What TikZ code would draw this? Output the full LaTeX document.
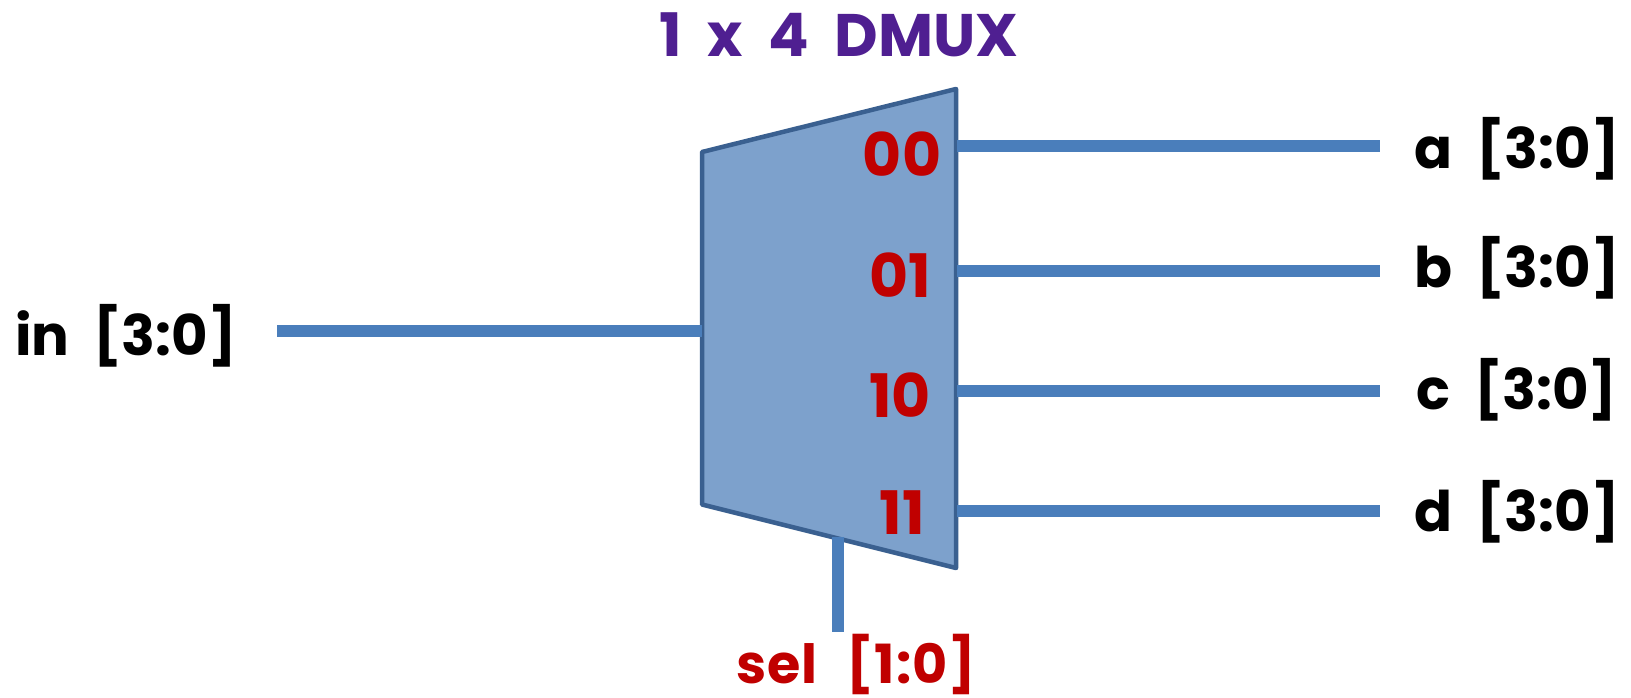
\documentclass[tikz,border=0pt]{standalone}
\usepackage{fontspec}
\setmainfont{Poppins}[WordSpace=2]
\newfontfamily\selfont{Poppins}[WordSpace=2.4,LetterSpace=1.5]
\definecolor{muxfill}{HTML}{7DA1CC}
\definecolor{muxedge}{HTML}{3A6090}
\definecolor{wire}{HTML}{4A7EBB}
\definecolor{redtxt}{HTML}{C00000}
\definecolor{purp}{HTML}{4F1F91}
\tikzset{
 muxbody/.style={draw=muxedge,fill=muxfill,line width=4.5pt,line join=round},
 wireline/.style={draw=wire,line width=11.5pt},
 port/.style={inner sep=0pt,text=redtxt,font=\bfseries\fontsize{60}{60}\selectfont},
 sig/.style={inner sep=0pt,text=black,font=\bfseries\fontsize{56}{56}\selectfont},
 seltxt/.style={inner sep=0pt,text=redtxt,font=\selfont\bfseries\fontsize{54}{54}\selectfont},
 ttl/.style={inner sep=0pt,text=purp,font=\bfseries\fontsize{60}{60}\selectfont},
}
\begin{document}
\begin{tikzpicture}[x=1pt,y=-1pt]
\useasboundingbox (0,0) rectangle (1631,698);
\coordinate (tl) at (702,152);
\coordinate (tr) at (956,89);
\coordinate (br) at (956,568);
\coordinate (bl) at (702,504.5);
\node[ttl] (title) at (839,35) {1 x 4 DMUX};
\node[sig] (in) at (126,336) {in [3:0]};
\node[sig] (a) at (1517,149) {a [3:0]};
\node[sig] (b) at (1517,268) {b [3:0]};
\node[sig] (c) at (1517,390) {c [3:0]};
\node[sig] (d) at (1517,512) {d [3:0]};
\node[seltxt] (sel) at (856,664) {sel [1:0]};
\coordinate (inR) at (277,331);
\coordinate (inL) at (702,331);
\coordinate (aL) at (957,146);
\coordinate (aR) at (1380,146);
\coordinate (bL) at (957,271);
\coordinate (bR) at (1380,271);
\coordinate (cL) at (957,391);
\coordinate (cR) at (1380,391);
\coordinate (dL) at (957,511);
\coordinate (dR) at (1380,511);
\coordinate (sT) at (838,537);
\coordinate (sB) at (838,632);
\draw[muxbody] (tl) -- (tr) -- (br) -- (bl) -- cycle;
\draw[wireline] (inR) -- (inL);
\draw[wireline] (aL) -- (aR);
\draw[wireline] (bL) -- (bR);
\draw[wireline] (cL) -- (cR);
\draw[wireline] (dL) -- (dR);
\draw[wireline] (sT) -- (sB);
\node[port] (p0) at (902,154) {00};
\node[port] (p1) at (900,275) {01};
\node[port] (p2) at (900,395) {10};
\node[port] (p3) at (902,513) {11};
\end{tikzpicture}
\end{document}
